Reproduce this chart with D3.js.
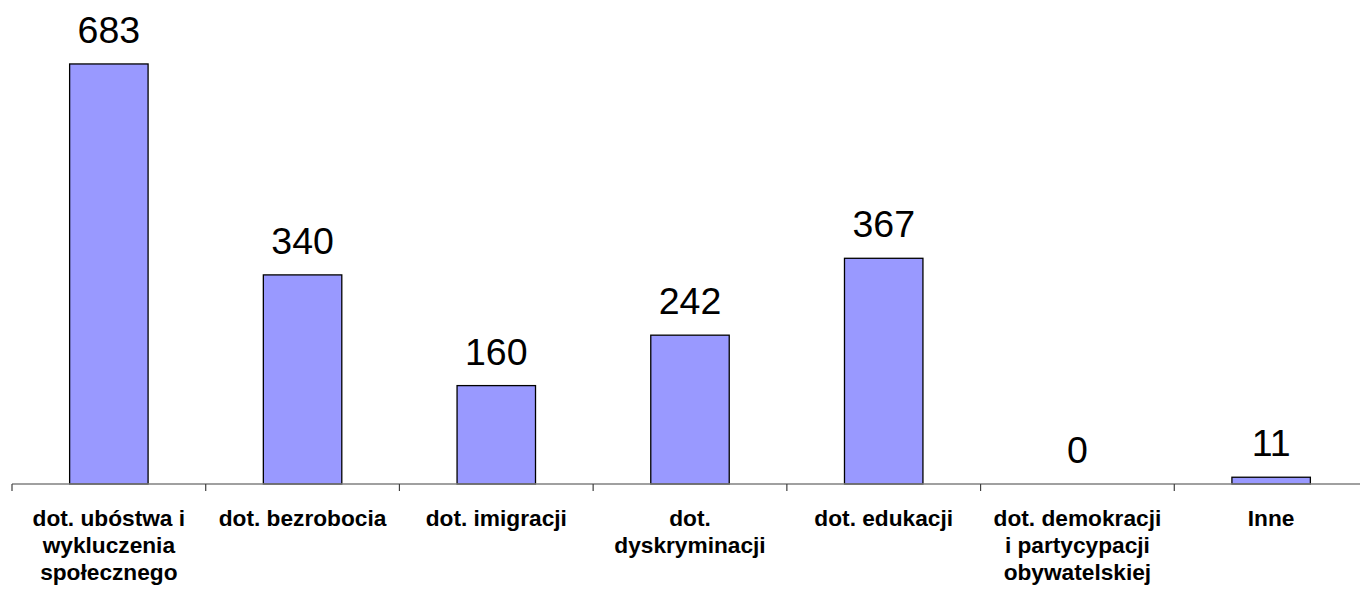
<!DOCTYPE html>
<html>
<head>
<meta charset="utf-8">
<script src="https://cdn.jsdelivr.net/npm/d3@7"></script>
<style>
  body { margin: 0; background: #fff; }
  svg { display: block; font-family: "Liberation Sans", Arial, sans-serif; }
</style>
</head>
<body>
<script>
// categories (one array of lines per label) and values
var categories = [
  ["dot. ubóstwa i", "wykluczenia", "społecznego"],
  ["dot. bezrobocia"],
  ["dot. imigracji"],
  ["dot.", "dyskryminacji"],
  ["dot. edukacji"],
  ["dot. demokracji", "i partycypacji", "obywatelskiej"],
  ["Inne"]
];
var values = [683, 340, 160, 242, 367, 0, 11];

var width = 1360, height = 589;
var baseY = 484;

var svg = d3.select("body").append("svg")
    .attr("width", width)
    .attr("height", height);

var idx = d3.range(values.length);

var x = d3.scaleBand()
    .domain(idx)
    .range([12, 1368])
    .paddingInner(0.595)
    .paddingOuter(0.2975);

var y = d3.scaleLinear()
    .domain([0, 700])
    .range([baseY, 53.5]);

// bars
svg.append("g").selectAll("rect")
    .data(idx)
  .enter().append("rect")
    .attr("x", function(i){ return x(i); })
    .attr("y", function(i){ return y(values[i]); })
    .attr("width", x.bandwidth())
    .attr("height", function(i){ return baseY - y(values[i]); })
    .attr("fill", "#9999ff")
    .attr("stroke", "#000")
    .attr("stroke-width", 1.3);

// axis line + ticks at category boundaries
var x0 = x.range()[0], step = x.step();
svg.append("line")
    .attr("x1", x0).attr("x2", x.range()[1])
    .attr("y1", baseY).attr("y2", baseY)
    .attr("stroke", "#808080").attr("stroke-width", 1.3);

svg.append("g").selectAll("line")
    .data(d3.range(values.length + 1))
  .enter().append("line")
    .attr("x1", function(i){ return x0 + i * step; })
    .attr("x2", function(i){ return x0 + i * step; })
    .attr("y1", baseY)
    .attr("y2", baseY + 7)
    .attr("stroke", "#404040")
    .attr("stroke-width", 1.2);

// value labels
svg.append("g").selectAll("text")
    .data(idx)
  .enter().append("text")
    .attr("x", function(i){ return x(i) + x.bandwidth() / 2; })
    .attr("y", function(i){ return y(values[i]) - 21; })
    .attr("text-anchor", "middle")
    .style("font-size", "37.5px")
    .attr("fill", "#000")
    .text(function(i){ return values[i]; });

// category labels
var lab = svg.append("g").selectAll("text")
    .data(idx)
  .enter().append("text")
    .attr("text-anchor", "middle")
    .style("font-size", "22.7px")
    .style("font-weight", "bold")
    .attr("fill", "#000");

lab.selectAll("tspan")
    .data(function(i){
      return categories[i].map(function(s, k){ return {s: s, k: k, i: i}; });
    })
  .enter().append("tspan")
    .attr("x", function(d){ return x(d.i) + x.bandwidth() / 2; })
    .attr("y", function(d){ return 526 + d.k * 27; })
    .text(function(d){ return d.s; });
</script>
</body>
</html>
